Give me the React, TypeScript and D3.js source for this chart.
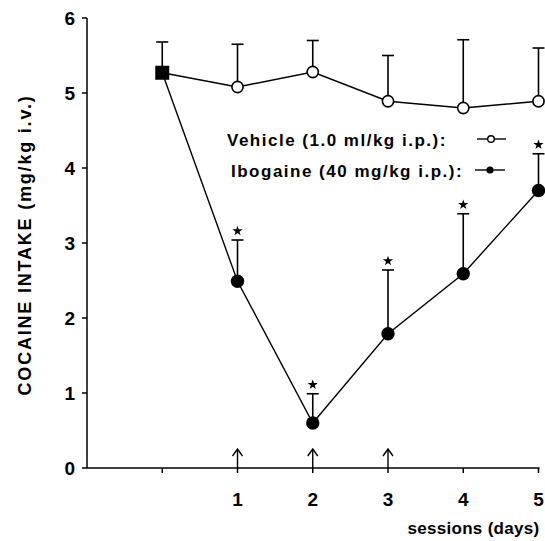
import React from "react";
import * as d3 from "d3";

const days = [0, 1, 2, 3, 4, 5];
const vehicleMean = [5.27, 5.08, 5.28, 4.89, 4.8, 4.89];
const vehicleErrTop = [5.68, 5.65, 5.7, 5.5, 5.71, 5.6];
const ibogaineDays = [1, 2, 3, 4, 5];
const ibogaineMean = [2.49, 0.6, 1.79, 2.59, 3.7];
const ibogaineErrTop = [3.04, 0.99, 2.64, 3.39, 4.19];
const xTickValues = [0, 1, 2, 3, 4, 5];
const xTickLabels = ["", "1", "2", "3", "4", "5"];
const yTickValues = [0, 1, 2, 3, 4, 5, 6];
const injectionDays = [1, 2, 3];

const W = 545;
const H = 541;
const FONT = "'Liberation Sans', Arial, Helvetica, sans-serif";

export default function App() {
  const x = d3.scaleLinear().domain([-1, 5]).range([87, 538.5]);
  const y = d3.scaleLinear().domain([0, 6]).range([468, 18]);

  const line = d3
    .line<[number, number]>()
    .x((d) => x(d[0]))
    .y((d) => y(d[1]));

  const vehPts: [number, number][] = days.map((d, i) => [d, vehicleMean[i]]);
  const ibPts: [number, number][] = [[0, vehicleMean[0]]].concat(
    ibogaineDays.map((d, i) => [d, ibogaineMean[i]] as [number, number])
  ) as [number, number][];

  const star = d3.symbol().type(d3.symbolStar).size(32)() as string;
  const capHalf = 6;

  return (
    <svg
      width={W}
      height={H}
      style={{ position: "absolute", left: 0, top: 0, background: "#fff" }}
      fontFamily={FONT}
    >
      {/* axes */}
      <line x1={x(-1)} x2={x(-1)} y1={y(0)} y2={y(6)} stroke="#000" strokeWidth={1.5} />
      <line x1={x(-1)} x2={x(5) + 1} y1={y(0)} y2={y(0)} stroke="#000" strokeWidth={1.5} />
      {yTickValues.map((v) => (
        <g key={"yt" + v}>
          <line x1={x(-1) - 5} x2={x(-1)} y1={y(v)} y2={y(v)} stroke="#000" strokeWidth={1.5} />
          <text
            x={x(-1) - 12}
            y={y(v)}
            dy="0.36em"
            textAnchor="end"
            fontSize={19}
            fontWeight="bold"
          >
            {v}
          </text>
        </g>
      ))}
      {xTickValues.map((v, i) => (
        <g key={"xt" + v}>
          <line x1={x(v)} x2={x(v)} y1={y(0)} y2={y(0) + 5} stroke="#000" strokeWidth={1.5} />
          <text x={x(v)} y={y(0) + 38} textAnchor="middle" fontSize={19} fontWeight="bold">
            {xTickLabels[i]}
          </text>
        </g>
      ))}
      <text
        x={x(5) + 1}
        y={y(0) + 66}
        textAnchor="end"
        fontSize={17}
        fontWeight="bold"
        letterSpacing={0.3}
      >
        sessions (days)
      </text>
      <text
        transform={`translate(31,245) rotate(-90)`}
        textAnchor="middle"
        fontSize={18}
        fontWeight="bold"
        letterSpacing={1.8}
      >
        COCAINE INTAKE (mg/kg i.v.)
      </text>

      {/* injection arrows */}
      {injectionDays.map((d) => (
        <g key={"ar" + d} stroke="#000" strokeWidth={1.4} fill="none">
          <line x1={x(d)} x2={x(d)} y1={y(0)} y2={y(0) - 19} />
          <polyline
            points={`${x(d) - 5},${y(0) - 12} ${x(d)},${y(0) - 19} ${x(d) + 5},${y(0) - 12}`}
          />
        </g>
      ))}

      {/* vehicle error bars */}
      {days.map((d, i) => (
        <g key={"ve" + d} stroke="#000" strokeWidth={1.6}>
          <line x1={x(d)} x2={x(d)} y1={y(vehicleMean[i])} y2={y(vehicleErrTop[i])} />
          <line
            x1={x(d) - capHalf}
            x2={x(d) + capHalf}
            y1={y(vehicleErrTop[i])}
            y2={y(vehicleErrTop[i])}
          />
        </g>
      ))}
      {/* ibogaine error bars */}
      {ibogaineDays.map((d, i) => (
        <g key={"ie" + d}>
          <g stroke="#000" strokeWidth={1.6}>
            <line x1={x(d)} x2={x(d)} y1={y(ibogaineMean[i])} y2={y(ibogaineErrTop[i])} />
            <line
              x1={x(d) - capHalf}
              x2={x(d) + capHalf}
              y1={y(ibogaineErrTop[i])}
              y2={y(ibogaineErrTop[i])}
            />
          </g>
          <path
            d={star}
            transform={`translate(${x(d)},${y(ibogaineErrTop[i]) - 9})`}
            fill="#000"
          />
        </g>
      ))}

      {/* lines */}
      <path d={line(vehPts) as string} fill="none" stroke="#000" strokeWidth={1.4} />
      <path d={line(ibPts) as string} fill="none" stroke="#000" strokeWidth={1.4} />

      {/* vehicle markers */}
      {days.slice(1).map((d, i) => (
        <circle
          key={"vm" + d}
          cx={x(d)}
          cy={y(vehicleMean[i + 1])}
          r={5.6}
          fill="#fff"
          stroke="#000"
          strokeWidth={1.6}
        />
      ))}
      {/* ibogaine markers */}
      {ibogaineDays.map((d, i) => (
        <circle key={"im" + d} cx={x(d)} cy={y(ibogaineMean[i])} r={6.7} fill="#000" />
      ))}
      {/* baseline square */}
      <rect
        x={x(0) - 7}
        y={y(vehicleMean[0]) - 7}
        width={14}
        height={14}
        fill="#000"
      />

      {/* legend */}
      <text x={227} y={146} fontSize={17} fontWeight="bold" letterSpacing={1.5}>
        Vehicle (1.0 ml/kg i.p.):
      </text>
      <line x1={477} x2={506} y1={139} y2={139} stroke="#000" strokeWidth={1.4} />
      <circle cx={491} cy={139} r={3.3} fill="#fff" stroke="#000" strokeWidth={1.4} />
      <text x={231} y={177} fontSize={17} fontWeight="bold" letterSpacing={1.5}>
        Ibogaine (40 mg/kg i.p.):
      </text>
      <line x1={475} x2={505} y1={170} y2={170} stroke="#000" strokeWidth={1.4} />
      <circle cx={490} cy={170} r={3.6} fill="#000" />
    </svg>
  );
}
